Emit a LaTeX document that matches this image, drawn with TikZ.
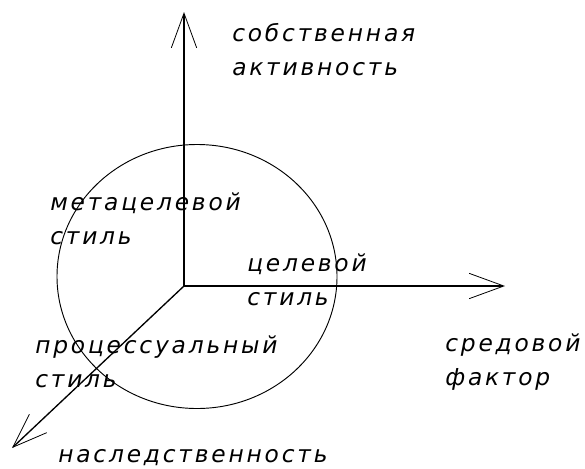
\documentclass[tikz,border=0pt]{standalone}
\usepackage{fontspec}
\setmainfont{DejaVu Sans}
\newfontfamily\wideit[LetterSpace=12]{DejaVu Sans Oblique}
\usepackage{tikz}
\usetikzlibrary{arrows.meta,positioning}

\begin{document}
\begin{tikzpicture}[x=0.75pt,y=-0.75pt,
    axis/.style={line width=1pt,-{Straight Barb[length=26pt,width=19pt,line width=0.6pt]}},
    ring/.style={line width=0.7pt},
    lbl/.style={anchor=base west,inner sep=0pt,align=left,
      font=\fontsize{17.5}{25.5}\selectfont\wideit}]
    \useasboundingbox (0,0) rectangle (585,468);
    % axes
    \coordinate (O) at (184,286);
    \coordinate (up) at (184,12);
    \coordinate (right) at (505,286);
    \coordinate (down) at (12,448);
    \draw[axis] (O) -- (up);
    \draw[axis] (O) -- (right);
    \draw[axis] (O) -- (down);
    % styles circle
    \draw[ring] (197,276.5) ellipse [x radius=105pt, y radius=99pt];

    % base anchor is the second line
    \node[lbl] (activity) at (232,75) {собственная\\активность};
    \node[lbl] (meta) at (50,244) {метацелевой\\стиль};
    \node[lbl] (goal) at (247,305) {целевой\\стиль};
    \node[lbl] (process) at (35,387) {процессуальный\\стиль};
    \node[lbl] (environ) at (445,385) {средовой\\фактор};
    \node[lbl] (heredity) at (58,462) {наследственность};
\end{tikzpicture}
\end{document}
